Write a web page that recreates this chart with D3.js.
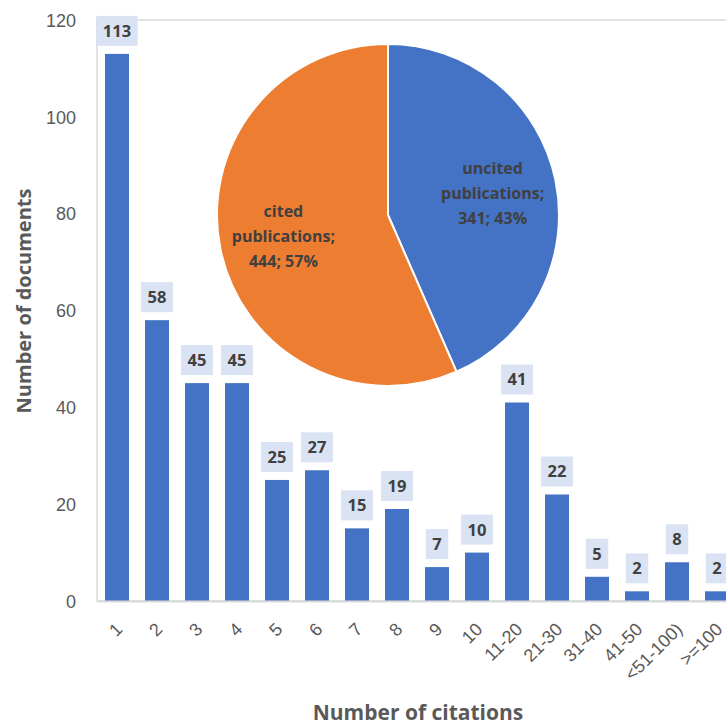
<!DOCTYPE html>
<html>
<head>
<meta charset="utf-8">
<script src="https://cdn.jsdelivr.net/npm/d3@7"></script>
<style>
body{margin:0;background:#fff;}
svg{display:block;font-family:"Open Sans",sans-serif;}
.tick text{fill:#595959;font-size:18px;}
.barlabel{font-weight:700;font-size:16.5px;fill:#404040;}
.pielabel{font-weight:700;font-size:16px;fill:#404040;}
.title{font-weight:700;font-size:20px;fill:#595959;}
</style>
</head>
<body>
<svg></svg>
<script>
// citation classes on the x axis
var categories = ["1","2","3","4","5","6","7","8","9","10",
                  "11-20","21-30","31-40","41-50","<51-100)",">=100"]
// number of documents per class
var documents = [113,58,45,45,25,27,15,19,7,10,41,22,5,2,8,2]
var yTicks = [0,20,40,60,80,100,120]

// inset pie
var pieNames = ["uncited","cited"]
var pieValues = [341,444]
var pieColors = ["#4472C4","#ED7D31"]

var drawFrame = function(margins)
{
    d3.select("svg")
    .append("rect")
    .attr("x",margins.left)
    .attr("y",margins.top)
    .attr("width",700)
    .attr("height",margins.bottom-margins.top)
    .attr("fill","none")
    .attr("stroke","#d9d9d9")
    .attr("stroke-width",1.5)
}

var drawAxes = function(margins,xScale,yScale)
{
    var xAxis = d3.axisBottom(xScale).tickSize(0).tickPadding(0)
    var yAxis = d3.axisLeft(yScale).tickValues(yTicks).tickSize(0).tickPadding(21)

    var xg = d3.select("svg")
    .append("g")
    .attr("transform","translate(0,"+margins.bottom+")")
    .call(xAxis)

    xg.select(".domain").attr("stroke","#d9d9d9").attr("stroke-width",2)

    xg.selectAll(".tick text")
    .attr("text-anchor","end")
    .attr("y",0)
    .attr("dy","0.35em")
    .attr("transform","translate(2,25) rotate(-45)")

    var yg = d3.select("svg")
    .append("g")
    .attr("transform","translate("+margins.left+",0)")
    .call(yAxis)

    yg.select(".domain").remove()
    yg.selectAll(".tick text").attr("dy","0.35em")
}

var drawBars = function(xScale,yScale)
{
    var svg = d3.select("svg")

    svg.append("g")
    .selectAll("rect")
    .data(documents)
    .enter()
    .append("rect")
    .attr("x",function(d,i){return xScale(categories[i])})
    .attr("y",function(d){return yScale(d)})
    .attr("width",xScale.bandwidth())
    .attr("height",function(d){return yScale(0)-yScale(d)})
    .attr("fill","#4472C4")

    var labels = svg.append("g")
    .selectAll("g")
    .data(documents)
    .enter()
    .append("g")
    .attr("transform",function(d,i){
        return "translate("+(xScale(categories[i])+xScale.bandwidth()/2)+","+(yScale(d)-23)+")"})

    labels.append("rect")
    .attr("fill","#DAE3F3")

    labels.append("text")
    .classed("barlabel",true)
    .attr("text-anchor","middle")
    .attr("dy","0.36em")
    .text(function(d){return d})
    .each(function(){
        var w = this.getComputedTextLength()+13
        d3.select(this.parentNode).select("rect")
        .attr("x",-w/2)
        .attr("y",-15)
        .attr("width",w)
        .attr("height",30)
    })
}

var drawPie = function()
{
    var total = d3.sum(pieValues)
    var r = 171
    var pie = d3.pie().sort(null)
    var arc = d3.arc().innerRadius(0).outerRadius(r)
    var labelArc = d3.arc().innerRadius(r*0.625).outerRadius(r*0.625)

    var g = d3.select("svg")
    .append("g")
    .attr("transform","translate(388,215)")

    var slices = pie(pieValues)

    g.selectAll("path")
    .data(slices)
    .enter()
    .append("path")
    .attr("d",arc)
    .attr("fill",function(d,i){return pieColors[i]})
    .attr("stroke","#fff")
    .attr("stroke-width",2)

    var lbl = g.selectAll("text.pielabel")
    .data(slices)
    .enter()
    .append("text")
    .classed("pielabel",true)
    .attr("text-anchor","middle")
    .attr("transform",function(d){
        var c = labelArc.centroid(d)
        return "translate("+c[0]+","+c[1]+")"})

    lbl.each(function(d,i){
        var lines = [pieNames[i],"publications;",
                     pieValues[i]+"; "+Math.round(pieValues[i]/total*100)+"%"]
        d3.select(this).selectAll("tspan")
        .data(lines)
        .enter()
        .append("tspan")
        .attr("x",0)
        .attr("y",function(t,j){return (j-1)*25})
        .attr("dy","0.35em")
        .text(function(t){return t})
    })
}

var drawLabels = function(margins)
{
    var labels = d3.select("svg")
    .append("g")

    labels.append("text")
    .text("Number of citations")
    .classed("title",true)
    .style("font-size","21px")
    .attr("text-anchor","middle")
    .attr("x",418)
    .attr("y",720)

    labels.append("g")
    .attr("transform","translate(24,301)")
    .append("text")
    .text("Number of documents")
    .classed("title",true)
    .attr("text-anchor","middle")
    .attr("dy","0.35em")
    .attr("transform","rotate(-90)")
}

var initGraph = function()
{
    var screen = {width:726,height:726}
    var margins = {left:97,top:20,bottom:601}

    d3.select("svg")
    .attr("width",screen.width)
    .attr("height",screen.height)

    var xScale = d3.scaleBand()
        .domain(categories)
        .range([margins.left,margins.left+640])
        .paddingInner(0.4)
        .paddingOuter(0.2)

    var yScale = d3.scaleLinear()
        .domain([0,120])
        .range([margins.bottom,margins.top])

    drawFrame(margins)
    drawBars(xScale,yScale)
    drawAxes(margins,xScale,yScale)
    drawPie()
    drawLabels(margins)
}

initGraph()
</script>
</body>
</html>
